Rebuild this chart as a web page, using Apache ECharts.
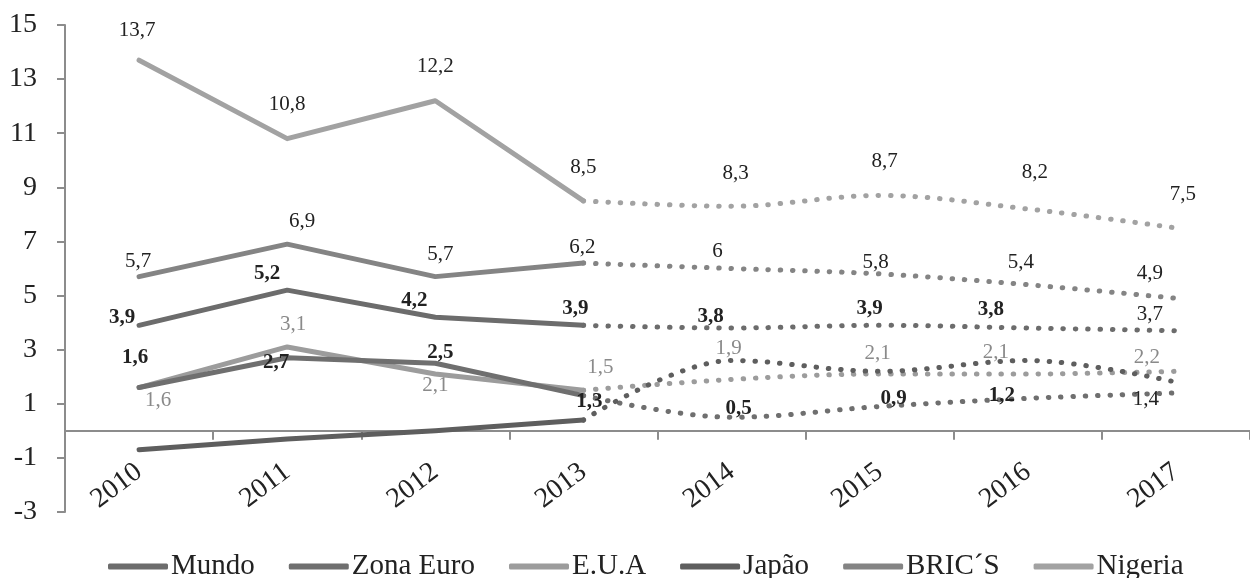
<!DOCTYPE html>
<html>
<head>
<meta charset="utf-8">
<title>Crescimento</title>
<script src="https://cdn.jsdelivr.net/npm/echarts@6/dist/echarts.min.js"></script>
<style>
	html,body{margin:0;padding:0;background:#fff;}
	#main{width:1250px;height:578px;}
</style>
</head>
<body>
<div id="main"></div>
<script>
const years=['2010','2011','2012','2013','2014','2015','2016','2017'];
const mundo=[3.9,5.2,4.2,3.9,3.8,3.9,3.8,3.7];
const zonaEuro=[1.6,2.7,2.5,1.3,0.5,0.9,1.2,1.4];
const eua=[1.6,3.1,2.1,1.5,1.9,2.1,2.1,2.2];
const japao=[-0.7,-0.3,0.0,0.4,2.6,2.2,2.6,1.8];
const brics=[5.7,6.9,5.7,6.2,6.0,5.8,5.4,4.9];
const nigeria=[13.7,10.8,12.2,8.5,8.3,8.7,8.2,7.5];
const yTicks={min:-3,max:15,step:2};

const FONT='Liberation Serif';

// where each value label sits relative to its point (pixels), style only
const shiftNigeria=[[-2,-30],[0,-34],[0,-34],[0,-33],[4,-33],[5,-34],[7,-36],[7,-33]];
const shiftBrics=[[-1,-15],[15,-23],[5,-22],[-1,-16],[-14,-17],[-4,-11],[-7,-22],[-26,-25]];
const shiftMundo=[[-17,-8],[-20,-17],[-21,-17],[-8,-17],[-21,-11],[-10,-17],[-37,-18],[-26,-16]];
const shiftEua=[[19,13],[6,-22],[0,11],[17,-23],[-3,-31],[-2,-21],[-32,-22],[-29,-14]];
const shiftZona=[[-4,-30],[-11,5],[5,-11],[6,6],[7,-9],[14,-8],[-26,-3],[-30,7]];

function fmt(p){
	return String(p.value).replace('.',',');
}

function labelFor(cfg,i){
	return {
		show:true,
		position:'inside',
		offset:cfg.shift[i],
		color:cfg.labelColor||'#222',
		fontWeight:(cfg.bold&&i<7)?'bold':'normal',
		fontSize:21,
		fontFamily:FONT,
		formatter:fmt
	};
}

function makeSeries(name,values,color,cfg){
	let solid=[],dotted=[];
	for(let i=0;i<values.length;i++){
		let lab=cfg.shift?labelFor(cfg,i):{show:false};
		if(i<=3){
			solid.push({value:values[i],label:lab});
		}else{
			solid.push('-');
		}
		if(i<3){
			dotted.push('-');
		}else if(i===3){
			dotted.push({value:values[i],label:{show:false}});
		}else{
			dotted.push({value:values[i],label:lab});
		}
	}
	return [
		{
			name:name,type:'line',data:solid,color:color,
			symbol:'circle',symbolSize:0,showSymbol:true,
			lineStyle:{width:5,color:color,join:'round',cap:'round'},
			z:cfg.z
		},
		{
			name:name,type:'line',data:dotted,color:color,smooth:0.35,
			symbol:'circle',symbolSize:0,showSymbol:true,
			lineStyle:{width:5,color:color,type:[0.5,11.8],cap:'round'},
			z:cfg.z
		}
	];
}

let series=[].concat(
	makeSeries('Nigeria',nigeria,'#a2a2a2',{z:2,shift:shiftNigeria}),
	makeSeries('BRIC´S',brics,'#848484',{z:3,shift:shiftBrics}),
	makeSeries('Mundo',mundo,'#6c6c6c',{z:4,bold:true,shift:shiftMundo}),
	makeSeries('E.U.A',eua,'#9c9c9c',{z:5,shift:shiftEua,labelColor:'#8a8a8a'}),
	makeSeries('Zona Euro',zonaEuro,'#6f6f6f',{z:6,bold:true,shift:shiftZona}),
	makeSeries('Japão',japao,'#5e5e5e',{z:7})
);

var myChart=echarts.init(document.getElementById('main'));
var option={
	animation:false,
	backgroundColor:'#fff',
	grid:{left:65,right:0,top:25,bottom:66,containLabel:false},
	legend:{
		data:['Mundo','Zona Euro','E.U.A','Japão','BRIC´S','Nigeria'],
		top:547,
		left:103,
		icon:'roundRect',
		itemWidth:60,
		itemHeight:6,
		itemGap:34,
		textStyle:{fontFamily:FONT,fontSize:29,color:'#222',padding:[0,0,0,-2]}
	},
	xAxis:{
		type:'category',
		data:years,
		boundaryGap:true,
		axisLine:{onZero:true,lineStyle:{color:'#8c8c8c',width:2}},
		axisTick:{show:true,length:9,lineStyle:{color:'#8c8c8c',width:2}},
		axisLabel:{rotate:37,fontFamily:FONT,fontSize:28,color:'#222',margin:-43}
	},
	yAxis:{
		type:'value',
		min:yTicks.min,
		max:yTicks.max,
		interval:yTicks.step,
		splitLine:{show:false},
		axisLine:{show:true,lineStyle:{color:'#8c8c8c',width:2}},
		axisTick:{show:true,length:8,lineStyle:{color:'#8c8c8c',width:2}},
		axisLabel:{fontFamily:FONT,fontSize:28,color:'#222',margin:28}
	},
	series:series
};
myChart.setOption(option);
</script>
</body>
</html>
